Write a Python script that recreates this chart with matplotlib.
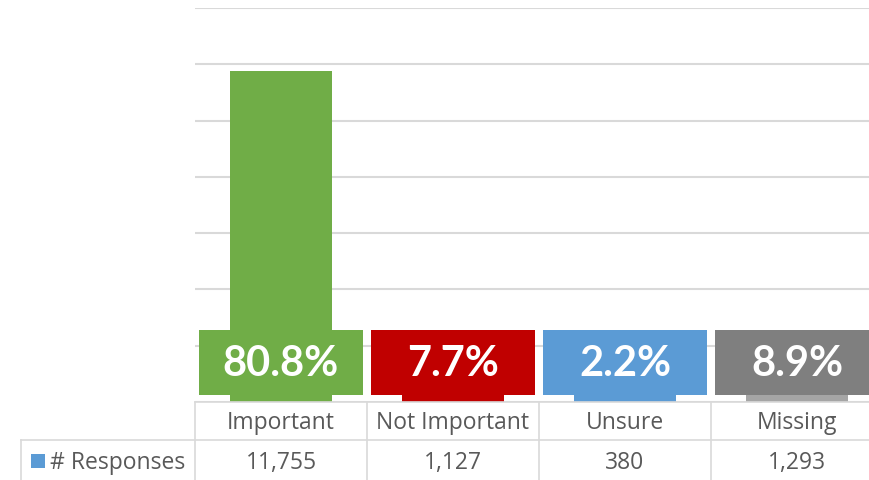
import matplotlib.pyplot as plt
from matplotlib.lines import Line2D
from matplotlib.patches import Rectangle

categories = ["Important", "Not Important", "Unsure", "Missing"]
responses = [11755, 1127, 380, 1293]
percent_labels = ["80.8%", "7.7%", "2.2%", "8.9%"]
series_name = "# Responses"

bar_colors = ["#70AD47", "#C00000", "#5B9BD5", "#A5A5A5"]
box_colors = ["#70AD47", "#C00000", "#5B9BD5", "#7F7F7F"]
grid_color = "#D9D9D9"
text_color = "#595959"

W, H = 869, 481
fig = plt.figure(figsize=(W / 100, H / 100), dpi=100)

# plot area in pixels: left 195, right 883 (cut off), top 9, baseline 403
ax = fig.add_axes([195 / W, 1 - 403 / H, 688 / W, 394 / H])
x = list(range(len(categories)))
ax.bar(x, responses, width=0.59, color=bar_colors, zorder=2)
ax.set_xlim(-0.5, 3.5)
ax.set_ylim(0, 14000)
ax.set_yticks(range(0, 14001, 2000))
ax.yaxis.grid(True, color=grid_color, linewidth=1.5, zorder=0)
ax.set_xticks([])
ax.tick_params(left=False, labelleft=False)
for s in ax.spines.values():
    s.set_visible(False)

# percentage label boxes (wider than the bars)
label_y = 1400
for i, (lab, c) in enumerate(zip(percent_labels, box_colors)):
    ax.add_patch(Rectangle((i - 0.475, label_y - 1150), 0.95, 2300,
                           fc=c, ec="none", zorder=2.5))
    ax.text(i, label_y, lab, ha="center", va="center", color="white",
            fontsize=30, fontweight="bold", family="Lato", zorder=3)


def px(xp):
    return xp / W


def py(yp):
    return 1 - yp / H


lw = 1.2
# table grid
fig.add_artist(Line2D([px(195), 1], [py(403), py(403)], color=grid_color, lw=lw))
fig.add_artist(Line2D([px(21), 1], [py(441), py(441)], color=grid_color, lw=lw))
fig.add_artist(Line2D([px(21), px(21)], [py(441), 0], color=grid_color, lw=lw))
for b in [195, 367, 539, 711]:
    fig.add_artist(Line2D([px(b), px(b)], [py(403), 0], color=grid_color, lw=lw))

# table text
for i, (cat, v) in enumerate(zip(categories, responses)):
    cx = px(195 + 172 * i + 86)
    fig.text(cx, py(423), cat, ha="center", va="center", color=text_color,
             fontsize=16.5, family="Open Sans")
    fig.text(cx, py(463), f"{v:,}", ha="center", va="center", color=text_color,
             fontsize=16.5, family="Open Sans")

fig.add_artist(Rectangle((px(31), py(469)), 14 / W, 14 / H, fc="#5B9BD5",
                         ec="none", transform=fig.transFigure))
fig.text(px(50), py(463), series_name, ha="left", va="center", color=text_color,
         fontsize=16.5, family="Open Sans")

fig.savefig("out.png", dpi=100)
